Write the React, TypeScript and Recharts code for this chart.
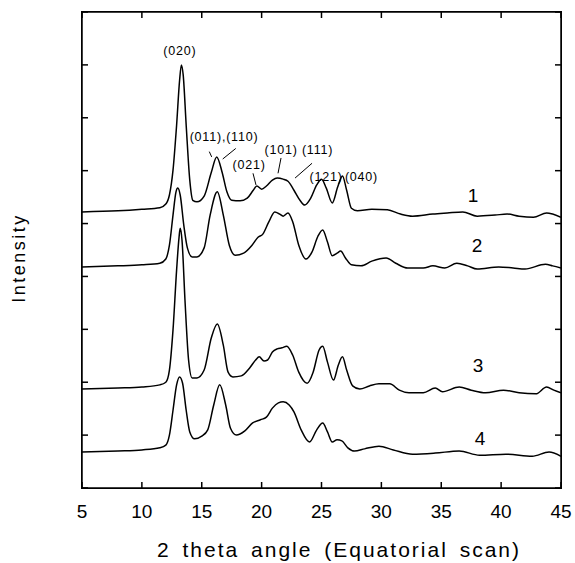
import { LineChart, Line, XAxis, YAxis, ReferenceDot, ReferenceLine } from "recharts";

// x ticks (2 theta, degrees) and y ticks (no labels, arbitrary intensity units)
const xTicks = [5, 10, 15, 20, 25, 30, 35, 40, 45];
const yTicks = [0, 1, 2, 3, 4, 5, 6, 7, 8, 9];

// scans: [2theta, intensity incl. vertical offset]
const curve1: [number, number][] = [
  [5, 5.22], [8, 5.24], [10, 5.27], [11.5, 5.3], [12, 5.37], [12.3, 5.54], [12.6, 6.01], [12.9, 6.86],
  [13.15, 7.71], [13.3, 8.0], [13.45, 7.81], [13.7, 6.86], [14.0, 5.82], [14.25, 5.44], [14.6, 5.41],
  [15.2, 5.52], [15.8, 5.97], [16.25, 6.26], [16.7, 5.97], [17.1, 5.6], [17.5, 5.44], [18.2, 5.43],
  [18.8, 5.48], [19.3, 5.63], [19.6, 5.71], [20.0, 5.65], [20.4, 5.71], [20.9, 5.82], [21.3, 5.86],
  [21.8, 5.84], [22.2, 5.8], [22.7, 5.63], [23.2, 5.44], [23.6, 5.35], [24.1, 5.48], [24.6, 5.73],
  [25.0, 5.84], [25.4, 5.67], [25.9, 5.39], [26.35, 5.69], [26.75, 5.9], [27.1, 5.63], [27.5, 5.29],
  [28.0, 5.24], [29.2, 5.27], [30.5, 5.26], [31.6, 5.18], [32.6, 5.14], [34.3, 5.18], [35.5, 5.2],
  [36.8, 5.22], [38.0, 5.14], [39.5, 5.16], [40.5, 5.18], [41.5, 5.14], [42.7, 5.12], [43.8, 5.2],
  [44.3, 5.18], [45.0, 5.12],
];

const curve2: [number, number][] = [
  [5, 4.18], [8, 4.2], [10, 4.22], [11.5, 4.25], [12.0, 4.33], [12.3, 4.59], [12.6, 5.16], [12.85, 5.6],
  [13.0, 5.67], [13.2, 5.54], [13.5, 4.97], [13.8, 4.54], [14.2, 4.37], [14.6, 4.37], [15.2, 4.54],
  [15.7, 5.16], [16.3, 5.6], [16.8, 5.16], [17.3, 4.59], [17.8, 4.4], [18.5, 4.44], [19.2, 4.59],
  [19.7, 4.74], [20.1, 4.8], [20.6, 5.03], [21.1, 5.22], [21.5, 5.18], [21.8, 5.14], [22.2, 5.2],
  [22.6, 5.03], [23.1, 4.59], [23.7, 4.33], [24.2, 4.46], [24.7, 4.76], [25.1, 4.88], [25.5, 4.65],
  [25.9, 4.39], [26.3, 4.44], [26.6, 4.48], [27.0, 4.35], [27.5, 4.22], [28.3, 4.2], [29.2, 4.29],
  [30.4, 4.35], [31.2, 4.25], [32.2, 4.16], [33.5, 4.16], [34.3, 4.2], [35.3, 4.16], [36.3, 4.25],
  [37.2, 4.2], [38.0, 4.14], [39.8, 4.18], [41.0, 4.16], [42.0, 4.14], [43.7, 4.23], [44.3, 4.2],
  [45.0, 4.16],
];

const curve3: [number, number][] = [
  [5, 1.87], [8, 1.89], [10, 1.91], [11.5, 1.95], [12.0, 2.0], [12.3, 2.23], [12.6, 2.99], [12.9, 4.12],
  [13.1, 4.73], [13.2, 4.91], [13.35, 4.69], [13.6, 3.55], [13.9, 2.42], [14.2, 2.08], [14.6, 2.08],
  [15.2, 2.23], [15.8, 2.84], [16.3, 3.1], [16.8, 2.7], [17.2, 2.19], [17.6, 2.1], [18.3, 2.12],
  [19.0, 2.27], [19.5, 2.42], [19.8, 2.48], [20.2, 2.4], [20.5, 2.42], [20.9, 2.57], [21.3, 2.63],
  [21.7, 2.65], [22.1, 2.68], [22.6, 2.51], [23.1, 2.19], [23.8, 1.98], [24.3, 2.19], [24.8, 2.61],
  [25.1, 2.68], [25.5, 2.38], [26.0, 2.04], [26.4, 2.32], [26.75, 2.48], [27.1, 2.23], [27.6, 1.93],
  [28.2, 1.87], [29.0, 1.93], [29.8, 1.97], [30.7, 1.97], [31.5, 1.85], [32.3, 1.8], [33.5, 1.8],
  [34.5, 1.89], [35.1, 1.82], [36.5, 1.91], [37.5, 1.85], [38.7, 1.8], [40.2, 1.85], [41.5, 1.8],
  [42.9, 1.78], [43.8, 1.91], [44.4, 1.85], [45.0, 1.8],
];

const curve4: [number, number][] = [
  [5, 0.68], [8, 0.7], [10, 0.72], [11.5, 0.76], [12.0, 0.81], [12.3, 1.0], [12.6, 1.47], [12.9, 1.95],
  [13.15, 2.1], [13.4, 1.98], [13.7, 1.47], [14.0, 1.06], [14.4, 0.93], [15.0, 0.98], [15.5, 1.1],
  [16.0, 1.57], [16.5, 1.95], [17.0, 1.57], [17.4, 1.13], [17.9, 1.0], [18.6, 1.08], [19.25, 1.23],
  [19.9, 1.29], [20.4, 1.34], [20.9, 1.51], [21.4, 1.61], [21.8, 1.63], [22.3, 1.57], [22.7, 1.44],
  [23.3, 1.1], [24.0, 0.87], [24.6, 1.1], [25.1, 1.23], [25.5, 1.06], [25.9, 0.87], [26.3, 0.91],
  [26.7, 0.89], [27.2, 0.76], [27.75, 0.7], [28.6, 0.74], [29.8, 0.79], [31.0, 0.72], [32.6, 0.64],
  [34.5, 0.66], [36.5, 0.7], [38.2, 0.62], [40.4, 0.64], [42.6, 0.6], [44.0, 0.68], [45.0, 0.6],
];

// reflection labels and curve numbers, in data coordinates
const peakLabels = [
  { text: "(020)", x: 13.18, y: 8.28 },
  { text: "(011),(110)", x: 16.86, y: 6.64 },
  { text: "(021)", x: 18.95, y: 6.11 },
  { text: "(101)", x: 21.62, y: 6.39 },
  { text: "(111)", x: 24.67, y: 6.39 },
  { text: "(121)", x: 25.38, y: 5.88 },
  { text: "(040)", x: 28.34, y: 5.88 },
];

const leaderLines: [number, number, number, number][] = [
  [15.63, 6.36, 15.83, 6.26],
  [16.75, 6.22, 17.84, 6.42],
  [19.28, 5.95, 19.53, 5.73],
  [21.62, 6.24, 21.37, 5.95],
  [24.21, 6.14, 22.79, 5.86],
];

const curveNames = [
  { text: "1", x: 37.65, y: 5.54 },
  { text: "2", x: 37.98, y: 4.59 },
  { text: "3", x: 38.07, y: 2.33 },
  { text: "4", x: 38.24, y: 0.95 },
];

const curves = [curve1, curve2, curve3, curve4];

const toPoints = (c: [number, number][]) => c.map(([x, y]) => ({ x, y }));

const blank = () => "";

const renderYTitle = () => (
  <text x={25} y={258} transform="rotate(-90 25 258)" textAnchor="middle" fontSize={18} letterSpacing={2.5} fill="#000">
    Intensity
  </text>
);

const renderXTitle = () => (
  <text x={339} y={557} textAnchor="middle" fontSize={21} letterSpacing={2} wordSpacing={4} fill="#000">
    2 theta angle (Equatorial scan)
  </text>
);

export default function App() {
  return (
    <div style={{ position: "absolute", left: 0, top: 0, width: 575, height: 563, fontFamily: "'Liberation Sans', Arial, sans-serif" }}>
      <LineChart width={575} height={563} margin={{ top: 0, right: 0, bottom: 0, left: 0 }}>
        <XAxis
          type="number"
          dataKey="x"
          domain={[5, 45]}
          ticks={xTicks}
          allowDataOverflow
          height={75}
          tickSize={-6}
          tickMargin={23}
          stroke="#000"
          strokeWidth={1.5}
          tick={{ fontSize: 19, fill: "#000" }}
          label={{ value: "2 theta angle (Equatorial scan)", content: renderXTitle }}
        />
        <XAxis
          xAxisId="top"
          orientation="top"
          type="number"
          dataKey="x"
          domain={[5, 45]}
          ticks={xTicks}
          allowDataOverflow
          height={12}
          tickSize={-6}
          tickFormatter={blank}
          stroke="#000"
          strokeWidth={1.5}
        />
        <YAxis
          type="number"
          domain={[0, 9]}
          ticks={yTicks}
          allowDataOverflow
          width={82}
          tickSize={-6}
          tickFormatter={blank}
          stroke="#000"
          strokeWidth={1.5}
          label={{ value: "Intensity", content: renderYTitle }}
        />
        <YAxis
          yAxisId="right"
          orientation="right"
          type="number"
          domain={[0, 9]}
          ticks={yTicks}
          allowDataOverflow
          width={14}
          tickSize={-6}
          tickFormatter={blank}
          stroke="#000"
          strokeWidth={1.5}
        />
        {curves.map((c, i) => (
          <Line
            key={i}
            data={toPoints(c)}
            dataKey="y"
            type="monotone"
            stroke="#000"
            strokeWidth={1.5}
            dot={false}
            activeDot={false}
            isAnimationActive={false}
          />
        ))}
        {leaderLines.map(([x1, y1, x2, y2], i) => (
          <ReferenceLine
            key={"l" + i}
            segment={[{ x: x1, y: y1 }, { x: x2, y: y2 }]}
            stroke="#000"
            strokeWidth={1}
          />
        ))}
        {peakLabels.map((p) => (
          <ReferenceDot
            key={p.text}
            x={p.x}
            y={p.y}
            r={0}
            fill="none"
            stroke="none"
            label={{ value: p.text, position: "center", fontSize: 12.5, fill: "#000", letterSpacing: 0.8 }}
          />
        ))}
        {curveNames.map((p) => (
          <ReferenceDot
            key={"n" + p.text}
            x={p.x}
            y={p.y}
            r={0}
            fill="none"
            stroke="none"
            label={{ value: p.text, position: "center", fontSize: 19, fill: "#000" }}
          />
        ))}
      </LineChart>
      {/* plot frame drawn over the chart so the top and right edges always show */}
      <div
        style={{
          position: "absolute",
          left: 81,
          top: 11,
          width: 479,
          height: 476,
          border: "1.5px solid #000",
          pointerEvents: "none",
        }}
      />
    </div>
  );
}
